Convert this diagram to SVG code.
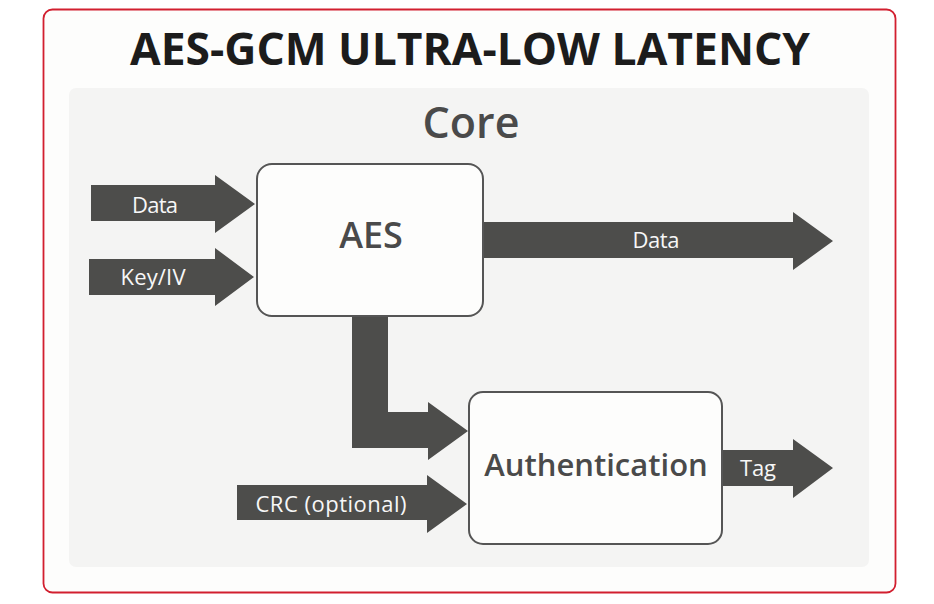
<svg xmlns="http://www.w3.org/2000/svg" width="934" height="604" viewBox="0 0 934 604">
<style>
.arrow{fill:#4d4d4b}
.box{fill:#fdfdfc;stroke:#555555;stroke-width:2}
.lbl{font-family:"Open Sans","Liberation Sans",sans-serif;font-size:22px;fill:#f7f7f7;text-anchor:middle}
.node{font-family:"Open Sans","Liberation Sans",sans-serif;font-weight:600;fill:#4a4a4a;text-anchor:middle}
</style>
<rect x="0" y="0" width="934" height="604" fill="#ffffff"/>
<rect id="frame" x="43.5" y="9.5" width="852" height="583" rx="9" fill="#fdfdfc" stroke="#d21f2f" stroke-width="1.8"/>
<text x="470" y="65" font-family="'Open Sans','Liberation Sans',sans-serif" font-weight="700" font-size="44" fill="#1c1c1c" text-anchor="middle" textLength="680" lengthAdjust="spacingAndGlyphs">AES-GCM ULTRA-LOW LATENCY</text>
<g id="core">
<rect x="69" y="88" width="800" height="479" rx="7" fill="#f4f4f3"/>
<text class="node" x="471" y="138" font-size="43">Core</text>
</g>
<g id="connectors">
<g id="in-data">
<polygon class="arrow" points="91,185 215,185 215,175 255,204 215,233 215,221 91,221"/>
<text class="lbl" x="155" y="213" textLength="46">Data</text>
</g>
<g id="in-key">
<polygon class="arrow" points="89,259 215,259 215,248 254,277 215,306 215,295 89,295"/>
<text class="lbl" x="153" y="285" textLength="65">Key/IV</text>
</g>
<g id="out-data">
<polygon class="arrow" points="483,222 793,222 793,212 833,241 793,270 793,258 483,258"/>
<text class="lbl" x="656" y="248" textLength="47">Data</text>
</g>
<g id="aes-auth">
<polygon class="arrow" points="352,315 388,315 388,412 428,412 428,402 468,431 428,460 428,448 352,448"/>
</g>
<g id="in-crc">
<polygon class="arrow" points="237,485 427,485 427,475 467,504 427,533 427,520 237,520"/>
<text class="lbl" x="331" y="512" textLength="151">CRC (optional)</text>
</g>
<g id="out-tag">
<polygon class="arrow" points="722,450 793,450 793,439 833,468 793,498 793,486 722,486"/>
<text class="lbl" x="758" y="476" textLength="36">Tag</text>
</g>
</g>
<g id="aes">
<rect class="box" x="257" y="164" width="226" height="152" rx="15"/>
<text class="node" x="371" y="248" font-size="36">AES</text>
</g>
<g id="auth">
<rect class="box" x="469" y="392" width="253" height="152" rx="14"/>
<text class="node" x="596" y="476" font-size="31">Authentication</text>
</g>
</svg>
